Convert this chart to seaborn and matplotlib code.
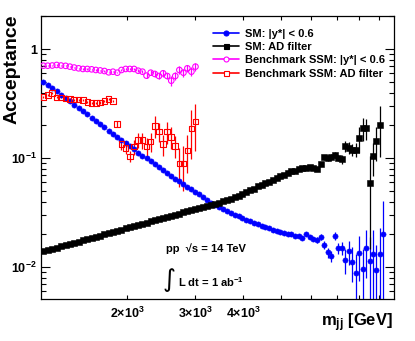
import numpy as np
import pandas as pd
import seaborn as sns
import matplotlib
matplotlib.use("Agg")
import matplotlib.pyplot as plt
from matplotlib.lines import Line2D
from matplotlib.ticker import FixedLocator, FixedFormatter, LogLocator, NullLocator, FuncFormatter

# bin centres in m_jj [GeV]
mjj = [1212, 1244, 1278, 1312, 1347, 1384, 1420, 1457, 1496, 1535,
       1576, 1617, 1658, 1702, 1746, 1791, 1837, 1885, 1933, 1982,
       2032, 2084, 2136, 2191, 2245, 2302, 2359, 2418, 2479, 2540,
       2603, 2666, 2732, 2799, 2866, 2936, 3008, 3081, 3154, 3230,
       3307, 3386, 3466, 3548, 3632, 3718, 3805, 3894, 3984, 4077,
       4171, 4267, 4366, 4466, 4568, 4672, 4778, 4886, 4996, 5109,
       5223, 5339, 5458, 5578, 5701, 5827, 5955, 6085, 6218, 6353,
       6490, 6630, 6772, 6916, 7064, 7214, 7367, 7522, 7680, 7841,
       8004, 8171, 8340, 8512, 8687, 8865, 9046, 9229]

# SM: |y*| < 0.6
sm_rap = [0.505, 0.471, 0.440, 0.410, 0.383, 0.357, 0.333, 0.311, 0.290, 0.271,
          0.253, 0.236, 0.220, 0.206, 0.192, 0.179, 0.167, 0.156, 0.147, 0.137,
          0.129, 0.121, 0.113, 0.106, 0.0998, 0.0938, 0.0881, 0.0828, 0.0780, 0.0735,
          0.0692, 0.0652, 0.0615, 0.0581, 0.0548, 0.0519, 0.0491, 0.0466, 0.0437, 0.0412,
          0.0390, 0.0372, 0.0356, 0.0342, 0.0329, 0.0317, 0.0305, 0.0294, 0.0284, 0.0274,
          0.0265, 0.0256, 0.0248, 0.0240, 0.0233, 0.0227, 0.0221, 0.0216, 0.0211, 0.0207,
          0.0200, 0.0203, 0.0195, 0.0192, 0.0186, 0.0200, 0.0190, 0.0182, 0.0178, 0.0191,
          0.0161, 0.0137, 0.0126, 0.0194, 0.0150, 0.0150, 0.0117, 0.0140, 0.0113, 0.0088,
          0.0135, 0.0096, 0.0150, 0.0115, 0.0132, 0.0095, 0.0132, 0.0202]
sm_rap_err = [0.003, 0.003, 0.003, 0.003, 0.003, 0.003, 0.003, 0.003, 0.003, 0.003,
              0.003, 0.003, 0.003, 0.003, 0.003, 0.003, 0.003, 0.003, 0.003, 0.003,
              0.001, 0.001, 0.001, 0.001, 0.001, 0.001, 0.001, 0.001, 0.001, 0.001,
              0.001, 0.001, 0.001, 0.001, 0.001, 0.001, 0.001, 0.001, 0.001, 0.001,
              0.0004, 0.0004, 0.0004, 0.0004, 0.0004, 0.0004, 0.0004, 0.0004, 0.0004, 0.0004,
              0.0004, 0.0004, 0.0004, 0.0004, 0.0004, 0.0004, 0.0004, 0.0004, 0.0004, 0.0004,
              0.0006, 0.0006, 0.0007, 0.0007, 0.0008, 0.0008, 0.0009, 0.0009, 0.001, 0.0012,
              0.0013, 0.0014, 0.0014, 0.0016, 0.0018, 0.002, 0.003, 0.0035, 0.004, 0.0045,
              0.006, 0.005, 0.007, 0.0075, 0.009, 0.0065, 0.0095, 0.020]

# SM: AD filter
sm_ad = [0.0140, 0.01436, 0.01472, 0.01514, 0.01552, 0.01592, 0.01637, 0.01679, 0.01722, 0.01766,
         0.01811, 0.01858, 0.01905, 0.01954, 0.02004, 0.02056, 0.02109, 0.02163, 0.02218, 0.02275,
         0.02333, 0.02393, 0.02455, 0.02512, 0.02576, 0.02642, 0.02704, 0.02773, 0.02838, 0.02904,
         0.02972, 0.03041, 0.03112, 0.03184, 0.03258, 0.03334, 0.03412, 0.03491, 0.03573, 0.03656,
         0.03741, 0.03828, 0.03926, 0.04027, 0.04130, 0.04246, 0.0443, 0.04550, 0.0466, 0.04898,
         0.05082, 0.05272, 0.0553, 0.05675, 0.05888, 0.0605, 0.06339, 0.0662, 0.06823, 0.0700,
         0.07295, 0.0760, 0.0770, 0.07962, 0.0812, 0.0820, 0.0826, 0.0822, 0.0795, 0.0886,
         0.102, 0.100, 0.103, 0.107, 0.101, 0.098, 0.130, 0.125, 0.119, 0.120,
         0.152, 0.188, 0.188, 0.0596, 0.104, 0.145, 0.202]
sm_ad_err = [0.0003, 0.0003, 0.0003, 0.0003, 0.0003, 0.0003, 0.0003, 0.0003, 0.0003, 0.0003,
             0.0003, 0.0003, 0.0003, 0.0003, 0.0003, 0.0003, 0.0003, 0.0003, 0.0003, 0.0003,
             0.0003, 0.0003, 0.0003, 0.0003, 0.0003, 0.0003, 0.0003, 0.0003, 0.0003, 0.0003,
             0.0003, 0.0003, 0.0003, 0.0003, 0.0003, 0.0003, 0.0003, 0.0003, 0.0003, 0.0003,
             0.0003, 0.0003, 0.0003, 0.0003, 0.0003, 0.0003, 0.0003, 0.0003, 0.0003, 0.0003,
             0.0008, 0.0008, 0.0009, 0.0009, 0.001, 0.001, 0.0011, 0.0012, 0.0013, 0.0013,
             0.0014, 0.0014, 0.0015, 0.0015, 0.002, 0.002, 0.002, 0.0025, 0.0025, 0.003,
             0.005, 0.005, 0.006, 0.007, 0.007, 0.010, 0.015, 0.015, 0.015, 0.018,
             0.040, 0.045, 0.040, 0.045, 0.035, 0.050, 0.100]

# Benchmark SSM: |y*| < 0.6
ssm_rap = [0.707, 0.707, 0.710, 0.718, 0.710, 0.705, 0.693, 0.680, 0.669, 0.660,
           0.660, 0.655, 0.646, 0.640, 0.632, 0.615, 0.623, 0.610, 0.646, 0.660,
           0.660, 0.660, 0.636, 0.623, 0.573, 0.610, 0.594, 0.569, 0.602, 0.569,
           0.515, 0.569, 0.646, 0.610, 0.669, 0.623, 0.693]
ssm_rap_err = [0.008, 0.008, 0.008, 0.008, 0.008, 0.008, 0.008, 0.008, 0.008, 0.008,
               0.008, 0.008, 0.008, 0.008, 0.008, 0.008, 0.008, 0.008, 0.008, 0.008,
               0.012, 0.015, 0.018, 0.020, 0.030, 0.030, 0.035, 0.035, 0.040, 0.040,
               0.050, 0.045, 0.050, 0.050, 0.055, 0.060, 0.060]

# Benchmark SSM: AD filter
ssm_ad = [0.367, 0.381, 0.395, 0.362, 0.362, 0.355, 0.348, 0.345, 0.345, 0.343,
          0.330, 0.322, 0.322, 0.325, 0.337, 0.348, 0.337, 0.207, 0.135, 0.124,
          0.104, 0.128, 0.147, 0.147, 0.128, 0.142, 0.198, 0.176, 0.135, 0.176,
          0.157, 0.130, 0.090, 0.090, 0.118, 0.188, 0.217]
ssm_ad_err = [0.008, 0.008, 0.008, 0.008, 0.008, 0.008, 0.008, 0.008, 0.008, 0.008,
              0.008, 0.008, 0.008, 0.008, 0.008, 0.008, 0.008, 0.012, 0.015, 0.015,
              0.012, 0.020, 0.022, 0.025, 0.025, 0.028, 0.045, 0.035, 0.030, 0.040,
              0.035, 0.030, 0.035, 0.040, 0.045, 0.090, 0.100]

x_ticks = [2000, 3000, 4000, 5000, 6000, 7000, 8000, 9000]
x_tick_labels = ["2×10$^{3}$", "3×10$^{3}$", "4×10$^{3}$", "", "", "", "", ""]

labels = ["SM: |y*| < 0.6", "SM: AD filter",
          "Benchmark SSM: |y*| < 0.6", "Benchmark SSM: AD filter"]

sns.set_theme(style="ticks")
plt.rcParams["font.family"] = ["Liberation Sans", "DejaVu Sans"]
plt.rcParams["font.weight"] = "bold"
plt.rcParams["mathtext.default"] = "regular"
plt.rcParams["text.color"] = "black"
plt.rcParams["axes.labelcolor"] = "black"
plt.rcParams["axes.edgecolor"] = "black"
plt.rcParams["xtick.color"] = "black"
plt.rcParams["ytick.color"] = "black"

fig = plt.figure(figsize=(4.15, 3.41), dpi=100)
ax = fig.add_axes([41 / 415, 1 - 299 / 341, (394.3 - 41) / 415, (299 - 16) / 341])
ax.set_xscale("log")
ax.set_yscale("log")

series = [
    (mjj, sm_rap, sm_rap_err, "blue", "o", True),
    (mjj[:len(sm_ad)], sm_ad, sm_ad_err, "black", "s", True),
    (mjj[:len(ssm_rap)], ssm_rap, ssm_rap_err, "magenta", "o", False),
    (mjj[:len(ssm_ad)], ssm_ad, ssm_ad_err, "red", "s", False),
]

handles = []
for (x, y, e, c, m, filled), lab in zip(series, labels):
    df = pd.DataFrame({"mjj": x, "acc": y, "err": e})
    ax.errorbar(df["mjj"], df["acc"], yerr=df["err"], fmt="none",
                ecolor=c, elinewidth=0.9, capsize=0, zorder=2)
    if filled:
        sns.scatterplot(data=df, x="mjj", y="acc", ax=ax, marker=m, s=14,
                        color=c, edgecolor=c, linewidth=0.4, zorder=3)
    else:
        sns.scatterplot(data=df, x="mjj", y="acc", ax=ax, marker=m, s=16,
                        facecolor="none", edgecolor=c, linewidth=0.8, zorder=3)
    handles.append(Line2D([0], [0], color=c, lw=1.2, marker=m, ms=3.6,
                          mfc=c if filled else "white", mec=c, mew=0.8))

ax.set_xlim(1195, 9870)
ax.set_ylim(0.00512, 2.02)
ax.set_xlabel("")
ax.set_ylabel("")

ax.xaxis.set_major_locator(FixedLocator(x_ticks))
ax.xaxis.set_major_formatter(FixedFormatter(x_tick_labels))
ax.xaxis.set_minor_locator(NullLocator())
ax.yaxis.set_major_locator(LogLocator(base=10))
ax.yaxis.set_minor_locator(LogLocator(base=10, subs=range(2, 10)))
ax.yaxis.set_major_formatter(FuncFormatter(
    lambda v, p: "1" if abs(v - 1) < 1e-9 else "10$^{%d}$" % round(np.log10(v))))

ax.tick_params(which="both", direction="in", top=True, right=True, width=0.8)
ax.tick_params(axis="y", which="major", length=6.5, labelsize=9, pad=3)
ax.tick_params(axis="y", which="minor", length=3.6)
ax.tick_params(axis="x", which="major", length=3.2, labelsize=9, pad=5)
for sp in ax.spines.values():
    sp.set_linewidth(0.9)
    sp.set_color("black")

fig.text(12 / 415, 1 - 15 / 341, "Acceptance", rotation=90, ha="center", va="top",
         fontsize=14, fontweight="bold")
fig.text(393.3 / 415, 1 - 326.7 / 341, "m$_{jj}$ [GeV]", ha="right", va="baseline",
         fontsize=12, fontweight="bold")

fig.legend(handles, labels, loc="upper left", bbox_to_anchor=(212.7 / 415, 1 - 28.6 / 341),
           frameon=False, borderpad=0, borderaxespad=0,
           handlelength=2.4, handletextpad=0.5, labelspacing=0.3,
           prop={"weight": "bold", "size": 8})

fig.text(166 / 415, 1 - 249 / 341, "pp  √s = 14 TeV", ha="left", va="center",
         fontsize=8, fontweight="bold")
fig.text(169.5 / 415, 1 - 280 / 341, "∫", ha="center", va="center",
         fontsize=18, fontweight="normal", family=["DejaVu Sans"])
fig.text(178 / 415, 1 - 282.5 / 341, "L dt = 1 ab$^{-1}$", ha="left", va="center",
         fontsize=8, fontweight="bold")

fig.savefig("out.png", dpi=100)
